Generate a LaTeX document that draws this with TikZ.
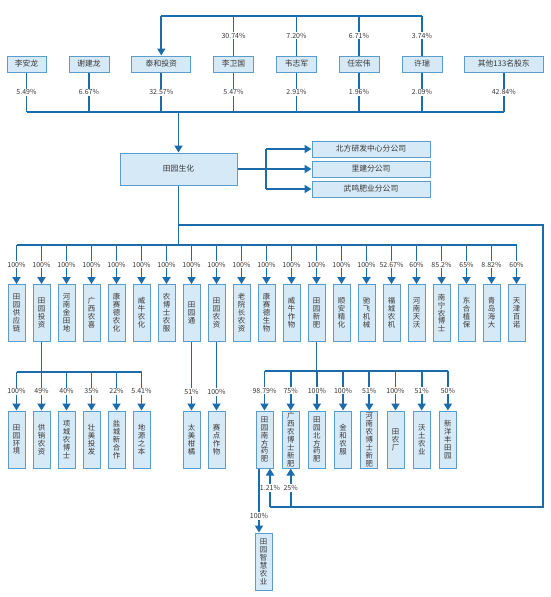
\documentclass[tikz,border=0pt]{standalone}
\usepackage{fontspec}
\setmainfont{Noto Sans CJK SC}
\usetikzlibrary{arrows.meta}
\definecolor{lnc}{HTML}{1C6BAA}
\definecolor{bdc}{HTML}{5A9DCB}
\definecolor{fic}{HTML}{D5E9F7}
\definecolor{txc}{HTML}{383838}
\makeatletter
\def\vt@loop#1{\@tfor\vt@c:=#1\do{\ifx\vt@acc\@empty\edef\vt@acc{\vt@c}\else\edef\vt@acc{\unexpanded\expandafter{\vt@acc}\noexpand\\\vt@c}\fi}}
\newcommand\vt[1]{\edef\vt@list{#1}\def\vt@acc{}\expandafter\vt@loop\expandafter{\vt@list}\vt@acc}
\makeatother
\tikzset{
 ln/.style={draw=lnc, line width=1.7pt},
 arr/.style={-{Triangle[width=8pt,length=7pt]}},
 hbox/.style={draw=bdc, fill=fic, line width=1pt, minimum height=16pt, inner sep=0pt, font=\fontsize{7.8}{9}\selectfont, text=txc},
 vbox/.style={draw=bdc, fill=fic, line width=1pt, minimum width=17pt, minimum height=57pt, inner sep=0pt, align=center, font=\fontsize{7.4}{7.95}\selectfont, text=txc},
 pct/.style={fill=white, inner sep=1pt, font=\fontsize{7}{8}\selectfont, text=txc},
}
\begin{document}
\begin{tikzpicture}[x=1pt,y=-1pt]
\useasboundingbox[fill=white] (0,0) rectangle (550,597);
% level coordinates
\coordinate (t) at (0,16);
\coordinate (b1) at (0,112);
\coordinate (b2) at (0,245);
\coordinate (b3) at (0,372);
\coordinate (b4) at (0,371);
\coordinate (y392) at (0,392);
\coordinate (y488) at (0,488);
\coordinate (y516) at (0,516);
\coordinate (o1) at (543,225);
\coordinate (o2) at (543,507);
\coordinate (br) at (266,0);
% shareholders
\node[hbox, minimum width=39pt] (s1) at (26.5,64) {李安龙};
\node[hbox, minimum width=40pt] (s2) at (89,64) {谢建龙};
\node[hbox, minimum width=59pt] (s3) at (161.3,64) {泰和投资};
\node[hbox, minimum width=40pt] (s4) at (233.5,64) {李卫国};
\node[hbox, minimum width=40pt] (s5) at (296.5,64) {韦志军};
\node[hbox, minimum width=40pt] (s6) at (359,64) {任宏伟};
\node[hbox, minimum width=40pt] (s7) at (422,64) {许瑞};
\node[hbox, minimum width=79pt] (s8) at (503.8,64) {其他133名股东};
% top links to 泰和投资
\draw[ln] (s3.north |- t) -- (s7.north |- t);
\draw[ln,arr] (s3.north |- t) -- (s3.north);
\foreach \n/\p in {4/30.74\%,5/7.20\%,6/6.71\%,7/3.74\%}
  \draw[ln] (s\n.north) -- node[pct]{\p} (s\n.north |- t);
% links down to bus
\foreach \n/\p in {1/5.49\%,2/6.67\%,3/32.57\%,4/5.47\%,5/2.91\%,6/1.96\%,7/2.09\%,8/42.84\%}
  \draw[ln] (s\n.south) -- node[pct]{\p} (s\n.south |- b1);
\draw[ln] (s1.south |- b1) -- (s8.south |- b1);
% main company
\node[hbox, minimum width=117pt, minimum height=32pt] (g) at (178.5,169) {田园生化};
\draw[ln,arr] (g.north |- b1) -- (g.north);
% branches
\node[hbox, minimum width=118pt] (f1) at (371,149) {北方研发中心分公司};
\node[hbox, minimum width=118pt] (f2) at (371,169) {里建分公司};
\node[hbox, minimum width=118pt] (f3) at (371,189) {武鸣肥业分公司};
\draw[ln] (g.east) -- (g.east -| br);
\draw[ln] (f1.west -| br) -- (f3.west -| br);
\foreach \n in {1,2,3} \draw[ln,arr] (f\n.west -| br) -- (f\n.west);
% subsidiaries row
\foreach \t/\p [count=\i from 0] in {田园供应链/100\%,田园投资/100\%,河南金田地/100\%,广西农喜/100\%,康赛德农化/100\%,威牛农化/100\%,农博士农服/100\%,田园通/100\%,田园农资/100\%,老院长农资/100\%,康赛德生物/100\%,威牛作物/100\%,田园新肥/100\%,顺安精化/100\%,驰飞机械/100\%,福城农机/52.67\%,河南天沃/60\%,南宁农博士/85.2\%,东合植保/65\%,青岛海大/8.82\%,天津百诺/60\%} {
  \node[vbox] (c\i) at ({16.5+25*\i},313) {\vt{\t}};
  \draw[ln,arr] (c\i.north |- b2) -- node[pct]{\p} (c\i.north);
}
\draw[ln] (g.south) -- (g.south |- b2);
\draw[ln] (c0.north |- b2) -- (c20.north |- b2);
% under 田园投资
\foreach \t/\p [count=\i from 0] in {田园环境/100\%,供销农资/49\%,项城农博士/40\%,壮美投发/35\%,盐城新合作/22\%,地源之本/5.41\%} {
  \node[vbox] (L\i) at ({16.5+25*\i},439.5) {\vt{\t}};
  \draw[ln,arr] (L\i.north |- b3) -- node[pct]{\p} (L\i.north);
}
\draw[ln] (c1.south) -- (c1.south |- b3);
\draw[ln] (L0.north |- b3) -- (L5.north |- b3);
% under 田园通 and 田园农资
\node[vbox] (T1) at (191.5,439.5) {\vt{太美柑橘}};
\node[vbox] (T2) at (216.5,439.5) {\vt{赛点作物}};
\draw[ln,arr] (c7.south) -- (T1.north);
\draw[ln,arr] (c8.south) -- (T2.north);
\node[pct] at (T1.north |- y392) {51\%};
\node[pct] at (T2.north |- y392) {100\%};
% under 田园新肥
\foreach \t/\p [count=\i from 0] in {田园南方药肥/98.79\%,广西农博士新肥/75\%,田园北方药肥/100\%,金和农服/100\%,河南农博士新肥/51\%,田农厂/100\%,沃土农业/51\%,新洋丰田园/50\%} {
  \node[vbox] (m\i) at ({264.5+26.2*\i},439.5) {\vt{\t}};
  \draw[ln,arr] (m\i.north |- b4) -- node[pct]{\p} (m\i.north);
}
\draw[ln] (c12.south) -- (c12.south |- b4);
\draw[ln] (m0.north |- b4) -- (m7.north |- b4);
% outer loop from 田园生化
\coordinate (m0in) at ([xshift=5.5pt]m0.south);
\coordinate (m0out) at ([xshift=-5.5pt]m0.south);
\draw[ln] (g.south |- o1) -- (o1) -- (o2) -- (o2 -| m0in);
\draw[ln,arr] (o2 -| m0in) -- (m0in);
\draw[ln,arr] (o2 -| m1.south) -- (m1.south);
\node[pct] at (m0in |- y488) {1.21\%};
\node[pct] at (m1.south |- y488) {25\%};
% 田园智慧农业
\node[vbox] (z) at (263.5,561.5) {\vt{田园智慧农业}};
\draw[ln,arr] (m0out) -- (m0out |- z.north);
\node[pct] at (m0out |- y516) {100\%};
\end{tikzpicture}
\end{document}
